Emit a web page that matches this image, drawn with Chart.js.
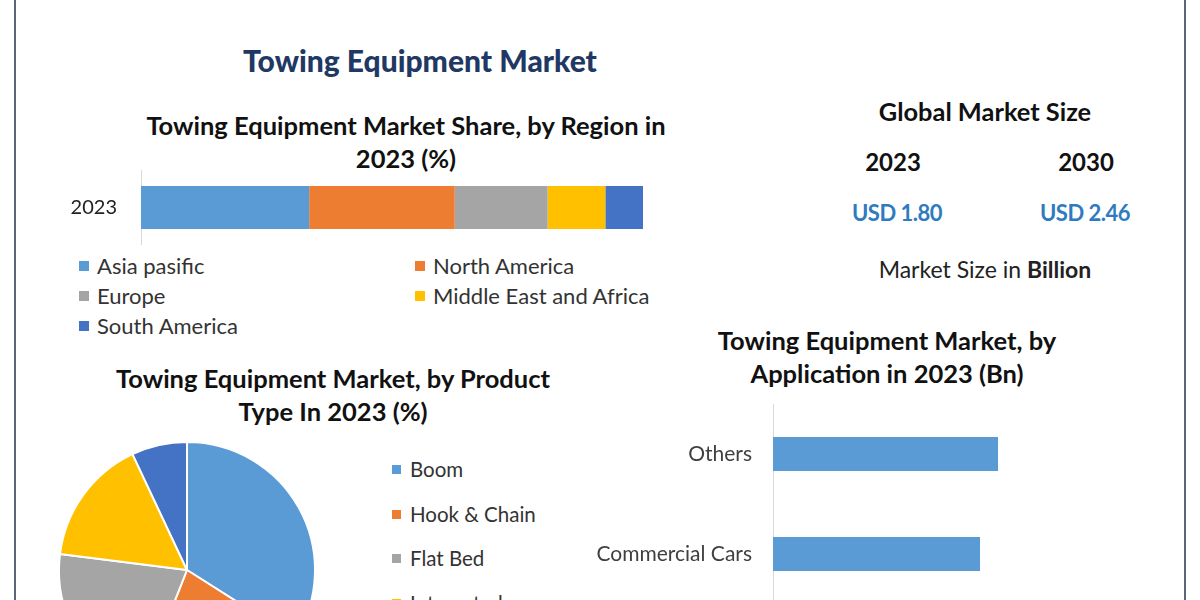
<!DOCTYPE html>
<html>
<head>
<meta charset="utf-8">
<script src="https://cdn.jsdelivr.net/npm/chart.js@4"></script>
<style>
  html, body { margin:0; padding:0; width:1200px; height:600px; overflow:hidden; background:#fff; font-family: Lato, "Open Sans", sans-serif; line-height:1.2; }
  .abs { position:absolute; }
  .frameL { position:absolute; left:14px; top:0; width:2px; height:600px; background:#5a6678; }
  .frameR { position:absolute; left:1184px; top:0; width:2px; height:600px; background:#5a6678; }
  .title { color:#1f3864; font-weight:900; font-size:30px; text-align:center; }
  .sub { color:#111; font-weight:700; font-size:25.5px; text-align:center; line-height:33px; }
  .leg { position:absolute; font-size:22px; color:#333; white-space:nowrap; }
  .leg i { position:absolute; width:10px; height:10px; left:-18px; top:8px; }
  .pleg { position:absolute; font-size:20.5px; color:#333; white-space:nowrap; }
  .pleg i { position:absolute; width:9px; height:9px; left:-18px; top:8px; }
  canvas { position:absolute; }
</style>
</head>
<body>
<div class="frameL"></div>
<div class="frameR"></div>

<div class="abs title" style="left:170px; top:42px; width:500px;">Towing Equipment Market</div>
<div class="abs sub" style="left:106px; top:109px; width:600px;">Towing Equipment Market Share, by Region in<br>2023 (%)</div>
<div class="abs sub" style="left:83px; top:362px; width:500px;">Towing Equipment Market, by Product<br>Type In 2023 (%)</div>
<div class="abs sub" style="left:637px; top:324px; width:500px;">Towing Equipment Market, by<br>Application in 2023 (Bn)</div>

<div class="abs" style="left:835px; top:96px; width:300px; text-align:center; font-weight:700; font-size:25.4px; color:#111;">Global Market Size</div>
<div class="abs" style="left:843px; top:148px; width:100px; text-align:center; font-weight:700; font-size:24px; color:#111;" id="y2023"></div>
<div class="abs" style="left:1036px; top:148px; width:100px; text-align:center; font-weight:700; font-size:24px; color:#111;" id="y2030"></div>
<div class="abs" style="left:827px; top:200px; width:140px; text-align:center; font-weight:700; font-size:22px; color:#2e7bbf; letter-spacing:-0.5px;" id="v2023"></div>
<div class="abs" style="left:1015px; top:200px; width:140px; text-align:center; font-weight:700; font-size:22px; color:#2e7bbf; letter-spacing:-0.5px;" id="v2030"></div>
<div class="abs" style="left:835px; top:256px; width:300px; text-align:center; font-size:23px; color:#222;">Market Size in <b>Billion</b></div>

<div id="regLegend"></div>
<div id="pieLegend"></div>

<canvas id="c1" width="610" height="75" style="left:40px; top:170px;"></canvas>
<canvas id="c2" width="258" height="258" style="left:58px; top:441px;"></canvas>
<canvas id="c3" width="600" height="200" style="left:580px; top:404px;"></canvas>

<script>
// ---- data ----
const regionYear = ['2023'];
const regionNames = ['Asia pasific', 'North America', 'Europe', 'Middle East and Africa', 'South America'];
const regionShares = [33.5, 29, 18.5, 11.5, 7.5];
const regionColors = ['#5b9bd5', '#ed7d31', '#a5a5a5', '#ffc000', '#4472c4'];

const productNames = ['Boom', 'Hook & Chain', 'Flat Bed', 'Integrated', 'Others'];
const productShares = [34, 22, 21, 16, 7];
const productColors = ['#5b9bd5', '#ed7d31', '#a5a5a5', '#ffc000', '#4472c4'];

const appNames = ['Others', 'Commercial Cars'];
const appValues = [0.45, 0.414];

const marketYears = ['2023', '2030'];
const marketSize = [1.80, 2.46];

// ---- text blocks ----
document.getElementById('y2023').textContent = marketYears[0];
document.getElementById('y2030').textContent = marketYears[1];
document.getElementById('v2023').textContent = 'USD ' + marketSize[0].toFixed(2);
document.getElementById('v2030').textContent = 'USD ' + marketSize[1].toFixed(2);

const regPos = [[97,253],[433,253],[97,283],[433,283],[97,313]];
document.getElementById('regLegend').innerHTML = regionNames.map((n,i) =>
  `<div class="leg" style="left:${regPos[i][0]}px; top:${regPos[i][1]}px;"><i style="background:${regionColors[i]}"></i>${n}</div>`).join('');

document.getElementById('pieLegend').innerHTML = productNames.map((n,i) =>
  `<div class="pleg" style="left:410px; top:${457 + i*44.7}px;"><i style="background:${productColors[i]}"></i>${n}</div>`).join('');

Chart.defaults.font.family = 'Lato, "Open Sans", sans-serif';
Chart.defaults.animation = false;

// ---- region stacked bar ----
new Chart(document.getElementById('c1'), {
  type: 'bar',
  data: {
    labels: regionYear,
    datasets: regionNames.map((n,i) => ({
      label: n, data: [regionShares[i]], backgroundColor: regionColors[i],
      barPercentage: 0.573, categoryPercentage: 1, borderWidth: 0
    }))
  },
  options: {
    indexAxis: 'y', responsive: false,
    layout: { padding: { right: 7, top: 0, bottom: 0, left: 0 } },
    plugins: { legend: { display: false }, tooltip: { enabled: false } },
    scales: {
      x: { stacked: true, min: 0, max: 100, display: false },
      y: { stacked: true,
           grid: { drawOnChartArea: false, drawTicks: true, tickLength: 24, tickColor: 'rgba(0,0,0,0)' },
           border: { display: true, color: '#d9d9d9', width: 1 },
           ticks: { color: '#222', font: { size: 20, lineHeight: 0.01 }, padding: 0 },
           afterFit: s => { s.width = 101; } }
    }
  }
});

// ---- product pie ----
new Chart(document.getElementById('c2'), {
  type: 'pie',
  data: { labels: productNames, datasets: [{ data: productShares, backgroundColor: productColors, borderColor: '#fff', borderWidth: 2 }] },
  options: {
    responsive: false,
    layout: { padding: 0 },
    plugins: { legend: { display: false }, tooltip: { enabled: false } }
  }
});

// ---- application bars ----
new Chart(document.getElementById('c3'), {
  type: 'bar',
  data: { labels: appNames, datasets: [{ data: appValues, backgroundColor: '#5b9bd5', barPercentage: 0.34, categoryPercentage: 1, borderWidth: 0 }] },
  options: {
    indexAxis: 'y', responsive: false,
    layout: { padding: { right: 7, top: 0, bottom: 0, left: 0 } },
    plugins: { legend: { display: false }, tooltip: { enabled: false } },
    scales: {
      x: { min: 0, max: 0.8, display: false },
      y: { grid: { drawOnChartArea: false, drawTicks: true, tickLength: 21, tickColor: 'rgba(0,0,0,0)' },
           border: { display: true, color: '#d9d9d9', width: 1 },
           ticks: { color: '#404040', font: { size: 21, lineHeight: 0.01 }, padding: 0 },
           afterFit: s => { s.width = 193; } }
    }
  }
});
</script>
</body>
</html>
